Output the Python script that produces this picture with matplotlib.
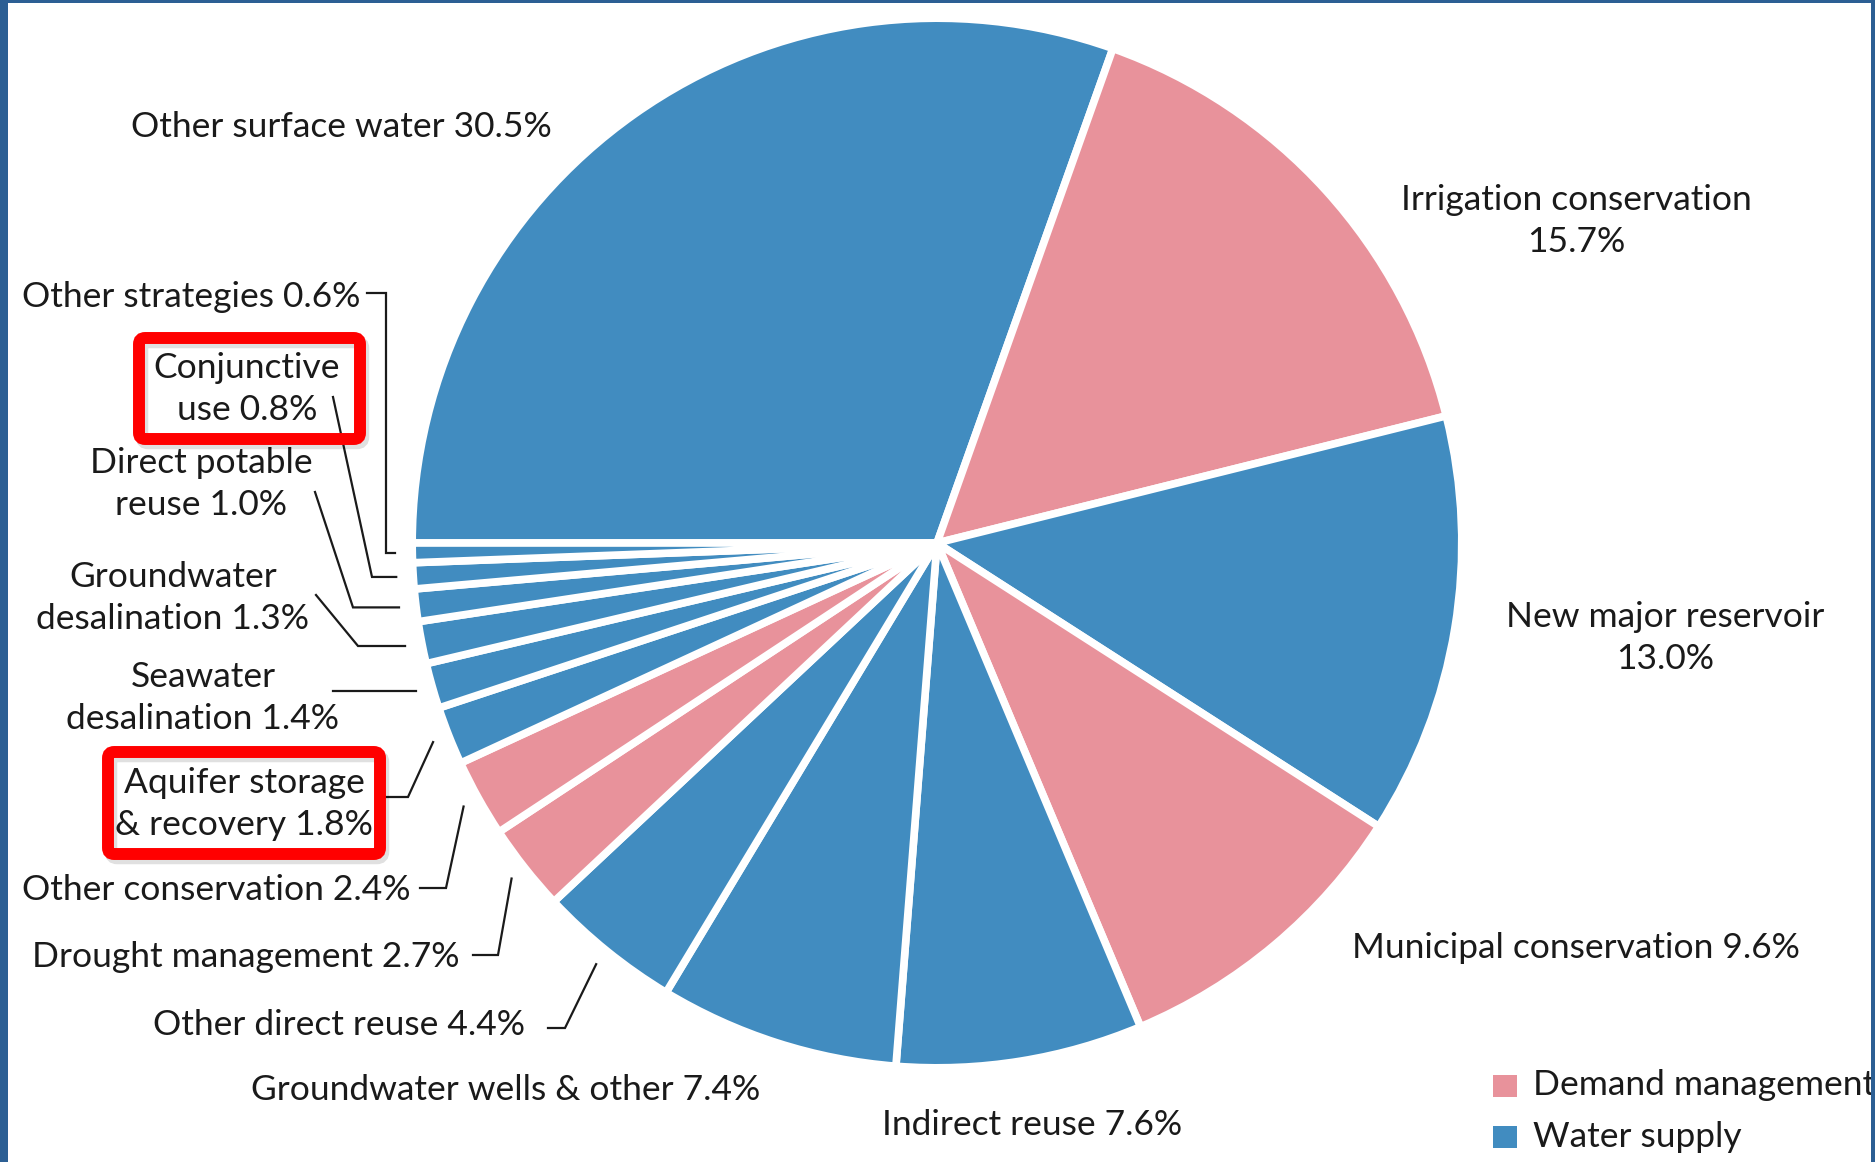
import matplotlib
matplotlib.use("Agg")
import matplotlib.pyplot as plt
import numpy as np
from matplotlib.patches import FancyBboxPatch, Rectangle

# ---------------- data ----------------
categories = ["Other surface water", "Irrigation conservation", "New major reservoir",
              "Municipal conservation", "Indirect reuse", "Groundwater wells & other",
              "Other direct reuse", "Drought management", "Other conservation",
              "Aquifer storage & recovery", "Seawater desalination",
              "Groundwater desalination", "Direct potable reuse", "Conjunctive use",
              "Other strategies"]
shares = [30.5, 15.7, 13.0, 9.6, 7.6, 7.4, 4.4, 2.7, 2.4, 1.8, 1.4, 1.3, 1.0, 0.8, 0.6]
groups = ["Water supply", "Demand management", "Water supply", "Demand management",
          "Water supply", "Water supply", "Water supply", "Demand management",
          "Demand management", "Water supply", "Water supply", "Water supply",
          "Water supply", "Water supply", "Water supply"]
group_names = ["Demand management", "Water supply"]
highlighted = ["Conjunctive use", "Aquifer storage & recovery"]

# ---------------- style ----------------
W, H = 1875, 1162
CX, CY, R = 937, 543, 521          # pie centre / radius in pixels
group_colors = {"Demand management": "#e8929b", "Water supply": "#418cc0"}
BORDER = "#2c5f94"
TXT = "#1a1a1a"
FONT = "Lato"
FS = 25.5
LINE = 42                            # line spacing in px

def P(x, y):
    return ((x - CX) / R, (CY - y) / R)

# label layout: words on first line (0 = single line), x, first baseline y, ha
layout = {
    "Other surface water":        (0, 341, 137, "center"),
    "Irrigation conservation":    (2, 1576, 210, "center"),
    "New major reservoir":        (3, 1665, 627, "center"),
    "Municipal conservation":     (0, 1576, 958, "center"),
    "Indirect reuse":             (0, 1032, 1135, "center"),
    "Groundwater wells & other":  (0, 506, 1100, "center"),
    "Other direct reuse":         (0, 525, 1035, "right"),
    "Drought management":         (0, 459, 967, "right"),
    "Other conservation":         (0, 411, 900, "right"),
    "Aquifer storage & recovery": (2, 244, 793, "center"),
    "Seawater desalination":      (1, 203, 687, "center"),
    "Groundwater desalination":   (1, 173, 587, "center"),
    "Direct potable reuse":       (2, 201, 473, "center"),
    "Conjunctive use":            (1, 247, 378, "center"),
    "Other strategies":           (0, 360, 307, "right"),
}
# leader line: fixed pixel points on the label side; last point from wedge angle
leaders = {
    "Other strategies":           [(367, 293), (386, 293), (386, None)],
    "Conjunctive use":            [(333, 397), (372, None)],
    "Direct potable reuse":       [(315, 492), (353, None)],
    "Groundwater desalination":   [(316, 595), (358, None)],
    "Seawater desalination":      [(333, None)],
    "Aquifer storage & recovery": [(384, 797), (408, 797)],
    "Other conservation":         [(420, 888), (446, 888)],
    "Drought management":         [(473, 955), (498, 955)],
    "Other direct reuse":         [(548, 1028), (565, 1028)],
}
boxes = {
    "Conjunctive use":            (139, 338, 360, 439),
    "Aquifer storage & recovery": (108, 752, 380, 854),
}

fig = plt.figure(figsize=(W / 100, H / 100), dpi=100)
fig.patch.set_facecolor("white")
ax = fig.add_axes([0, 0, 1, 1])

colors = [group_colors[g] for g in groups]
wedges, _ = ax.pie(shares, colors=colors, startangle=180, counterclock=False,
                   radius=1 + 3.8 / R,
                   wedgeprops=dict(edgecolor="white", linewidth=5.5, joinstyle="round"))

ax.set_xlim(-CX / R, (W - CX) / R)
ax.set_ylim(-(H - CY) / R, CY / R)
ax.set_aspect("auto")
ax.axis("off")

# labels
for name, v in zip(categories, shares):
    nwords, x, y, ha = layout[name]
    full = f"{name} {v:.1f}%"
    words = full.split(" ")
    lines = [full] if nwords == 0 else [" ".join(words[:nwords]), " ".join(words[nwords:])]
    for i, ln in enumerate(lines):
        tx, ty = P(x, y + i * LINE)
        ax.text(tx, ty, ln, ha=ha, va="baseline", fontsize=FS, family=FONT,
                color=TXT, zorder=5)

# leader lines
for w, name in zip(wedges, categories):
    if name not in leaders:
        continue
    mid = np.deg2rad((w.theta1 + w.theta2) / 2)
    ex, ey = 1.04 * np.cos(mid), 1.04 * np.sin(mid)
    pts = []
    for (px, py) in leaders[name]:
        if py is None:
            xx, _ = P(px, 0)
            pts.append((xx, ey))
        else:
            pts.append(P(px, py))
    pts.append((ex, ey))
    xs, ys = zip(*pts)
    ax.plot(xs, ys, color=TXT, lw=1.6, solid_joinstyle="miter", zorder=4)

# highlight boxes
for name in highlighted:
    x0, y0, x1, y1 = boxes[name]
    a = P(x0, y1)
    b = P(x1, y0)
    wdt, hgt = b[0] - a[0], b[1] - a[1]
    sh = FancyBboxPatch((a[0] + 3 / R, a[1] - 4 / R), wdt, hgt,
                        boxstyle="round,pad=0,rounding_size=0.012",
                        fc="none", ec="#000000", alpha=0.12, lw=9, zorder=5)
    ax.add_patch(sh)
    bx = FancyBboxPatch(a, wdt, hgt, boxstyle="round,pad=0,rounding_size=0.012",
                        fc="none", ec="#ff0000", lw=8.6, zorder=6)
    ax.add_patch(bx)

# legend
for i, g in enumerate(group_names):
    sq = P(1493, 1097 + i * 51)
    ax.add_patch(Rectangle(sq, 24 / R, 22 / R, color=group_colors[g], lw=0, zorder=5))
    tx, ty = P(1533, 1095 + i * 52)
    ax.text(tx, ty, g, ha="left", va="baseline", fontsize=FS, family=FONT, color=TXT,
            zorder=5)

# frame borders
fig.add_artist(Rectangle((0, 0), 8 / W, 1, transform=fig.transFigure, color=BORDER, lw=0))
fig.add_artist(Rectangle((0, 1 - 3 / H), 1, 3 / H, transform=fig.transFigure, color=BORDER, lw=0))
fig.add_artist(Rectangle((1 - 4 / W, 0), 4 / W, 1, transform=fig.transFigure, color=BORDER, lw=0))

fig.savefig("out.png", dpi=100, facecolor="white")
